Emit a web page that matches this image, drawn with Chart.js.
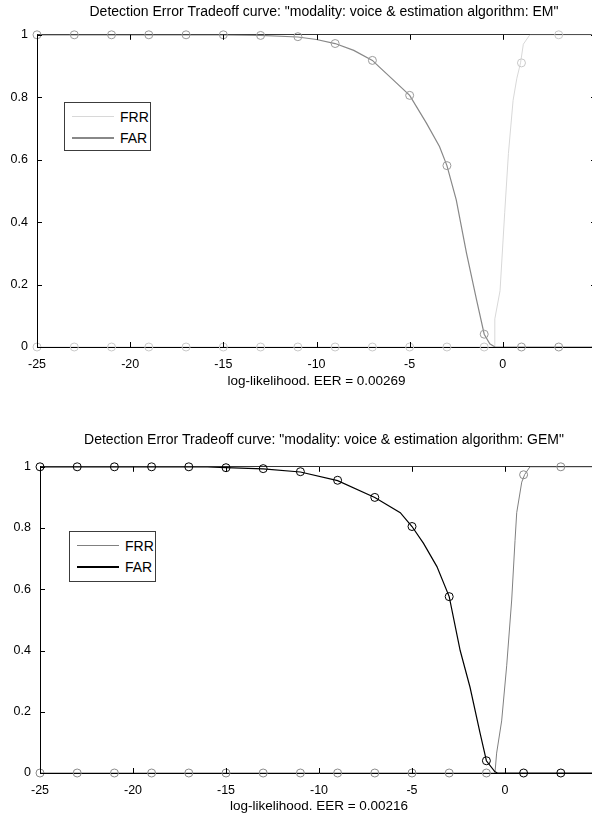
<!DOCTYPE html>
<html>
<head>
<meta charset="utf-8">
<script src="https://cdn.jsdelivr.net/npm/chart.js@4.4.0/dist/chart.umd.min.js"></script>
<style>
  html, body { margin: 0; padding: 0; background: #fff; overflow: hidden; }
  #page { position: relative; width: 592px; height: 817px; overflow: hidden; }
  canvas { position: absolute; left: 0; }
  .legend {
    position: absolute; box-sizing: border-box; width: 87px;
    border: 1px solid #3c3c3c; background: #fff; padding: 3px 0 0 7px;
    font: 14px 'Liberation Sans Narrow', 'Liberation Sans', Arial, sans-serif; color: #000;
  }
  .row { display: flex; align-items: center; height: 21px; }
  .swatch { display: inline-block; width: 42px; height: 0; border-top: 1px solid; margin-right: 6px; }
</style>
</head>
<body>
<div id="page">
  <canvas id="em" width="648" height="400" style="top:0"></canvas>
  <canvas id="gem" width="648" height="417" style="top:400px"></canvas>
  <div id="em-legend" class="legend" style="left:64px; top:102px; height:49px"></div>
  <div id="gem-legend" class="legend" style="left:69px; top:531px; height:51px"></div>
</div>
<script>
const FONT = "'Liberation Sans Narrow', 'Liberation Sans', Arial, sans-serif";

// markers every 2 units of log-likelihood
const markX = [-25, -23, -21, -19, -17, -15, -13, -11, -9, -7, -5, -3, -1, 1, 3, 5];

// EM
const emFrrMarks = [0, 0, 0, 0, 0, 0, 0, 0, 0, 0, 0, 0, 0, 0.91, 1, 1];
const emFarMarks = [1, 1, 1, 1, 1, 1, 0.998, 0.994, 0.972, 0.918, 0.806, 0.581, 0.041, 0, 0, 0];
const emFarX = [-25, -15, -13, -11, -10, -9, -8, -7, -6.65, -6, -5, -4.1, -3.4, -3, -2.5, -1.95, -1.41, -1, -0.7, -0.42, 5];
const emFarY = [1, 1, 0.998, 0.993, 0.985, 0.972, 0.95, 0.918, 0.898, 0.862, 0.806, 0.717, 0.642, 0.581, 0.471, 0.301, 0.151, 0.041, 0.01, 0, 0];
const emFrrX = [-25, -0.45, -0.43, -0.15, 0.1, 0.3, 0.55, 0.75, 0.95, 1.1, 1.45, 5];
const emFrrY = [0, 0, 0.09, 0.18, 0.43, 0.62, 0.79, 0.86, 0.91, 0.97, 1, 1];

// GEM
const gemFrrMarks = [0, 0, 0, 0, 0, 0, 0, 0, 0, 0, 0, 0, 0, 0.974, 1, 1];
const gemFarMarks = [1, 1, 1, 1, 1, 0.997, 0.994, 0.984, 0.956, 0.9, 0.805, 0.576, 0.04, 0, 0, 0];
const gemFarX = [-25, -16, -15, -13, -11, -9, -7, -5.63, -5, -4.38, -3.66, -3, -2.41, -1.88, -1.34, -1, -0.54, -0.4, 5];
const gemFarY = [1, 1, 0.997, 0.993, 0.983, 0.955, 0.9, 0.85, 0.805, 0.75, 0.674, 0.576, 0.4, 0.28, 0.13, 0.04, 0.004, 0, 0];
const gemFrrX = [-25, -0.54, -0.45, -0.18, 0.09, 0.36, 0.54, 0.63, 0.9, 1.06, 1.34, 5];
const gemFrrY = [0, 0, 0.065, 0.17, 0.35, 0.565, 0.76, 0.85, 0.95, 0.975, 1, 1];

const yTicks = [0, 0.2, 0.4, 0.6, 0.8, 1];

function zip(xs, ys) {
  return xs.map((x, i) => ({ x: x, y: ys[i] }));
}

// matlab style ticks pointing into the box
const inwardTicks = {
  id: "inwardTicks",
  afterDatasetsDraw(chart) {
    const { ctx, chartArea: a, scales } = chart;
    ctx.save();
    ctx.strokeStyle = "#000";
    ctx.lineWidth = 1;
    ctx.beginPath();
    scales.x.ticks.forEach((t) => {
      const px = Math.round(scales.x.getPixelForValue(t.value)) + 0.5;
      ctx.moveTo(px, a.bottom); ctx.lineTo(px, a.bottom - 5);
      ctx.moveTo(px, a.top); ctx.lineTo(px, a.top + 5);
    });
    scales.y.ticks.forEach((t) => {
      const py = Math.round(scales.y.getPixelForValue(t.value)) + 0.5;
      ctx.moveTo(a.left, py); ctx.lineTo(a.left + 5, py);
      ctx.moveTo(a.right, py); ctx.lineTo(a.right - 5, py);
    });
    ctx.stroke();
    ctx.restore();
  },
};

function makeChart(canvasId, legendId, p) {
  const chart = new Chart(document.getElementById(canvasId), {
    type: "scatter",
    data: {
      datasets: [
        {
          label: "FRR",
          data: zip(p.frrX, p.frrY),
          showLine: true,
          borderColor: p.frrColor,
          borderWidth: 1,
          pointRadius: 0,
          order: 2,
          legendWidth: 1,
        },
        {
          label: "FAR",
          data: zip(p.farX, p.farY),
          showLine: true,
          borderColor: p.farColor,
          borderWidth: 1.2,
          pointRadius: 0,
          order: 1,
          legendWidth: 2,
        },
        {
          data: zip(markX, p.frrMarks),
          showLine: false,
          clip: false,
          pointRadius: 4,
          pointBorderWidth: 1,
          pointBorderColor: p.frrMarkColor,
          pointBackgroundColor: "rgba(0,0,0,0)",
          order: 0,
        },
        {
          data: zip(markX, p.farMarks),
          showLine: false,
          clip: false,
          pointRadius: 4,
          pointBorderWidth: 1,
          pointBorderColor: p.farMarkColor,
          pointBackgroundColor: "rgba(0,0,0,0)",
          order: 0,
        },
      ],
    },
    options: {
      responsive: false,
      animation: false,
      events: [],
      devicePixelRatio: 1,
      layout: { padding: 0 },
      plugins: {
        legend: { display: false },
        tooltip: { enabled: false },
        title: {
          display: true,
          text: p.title,
          color: "#000",
          font: { family: FONT, size: 14, weight: "normal" },
          padding: p.titlePad,
        },
      },
      scales: {
        x: {
          type: "linear",
          position: "bottom",
          min: -25,
          max: 5,
          grid: { display: false },
          border: { color: "#000" },
          ticks: {
            stepSize: 5,
            padding: 2,
            color: "#000",
            maxRotation: 0,
            autoSkip: false,
            font: { family: FONT, size: 12.5 },
            callback: (v) => (v === 5 ? "" : String(v)),
          },
          title: {
            display: true,
            text: p.xlabel,
            color: "#000",
            font: { family: FONT, size: 13.5 },
            padding: { top: 0, bottom: p.xlabelPad },
          },
          afterFit: (s) => { s.height = p.xHeight; },
        },
        x2: {
          type: "linear",
          position: "top",
          min: -25,
          max: 5,
          grid: { display: false },
          border: { color: "#333" },
          ticks: { display: false },
          afterFit: (s) => { s.height = 0; },
        },
        y: {
          min: 0,
          max: 1,
          grid: { display: false },
          border: { color: "#000" },
          afterBuildTicks: (s) => { s.ticks = yTicks.map((v) => ({ value: v })); },
          ticks: {
            padding: 1,
            color: "#000",
            font: { family: FONT, size: 12.5 },
            callback: (v) => String(Math.round(v * 10) / 10),
          },
          afterFit: (s) => { s.width = p.yWidth; },
        },
        y2: {
          position: "right",
          min: 0,
          max: 1,
          grid: { display: false },
          border: { color: "#333" },
          ticks: { display: false },
          afterFit: (s) => { s.width = 648 - p.right; },
        },
      },
    },
    plugins: [inwardTicks],
  });

  const box = document.getElementById(legendId);
  chart.data.datasets.filter((d) => d.label).forEach((d) => {
    const row = document.createElement("div");
    row.className = "row";
    const sw = document.createElement("span");
    sw.className = "swatch";
    sw.style.borderTopColor = d.borderColor;
    sw.style.borderTopWidth = d.legendWidth + "px";
    const txt = document.createElement("span");
    txt.textContent = d.label;
    row.append(sw, txt);
    box.append(row);
  });
  return chart;
}

makeChart("em", "em-legend", {
  title: 'Detection Error Tradeoff curve: "modality: voice & estimation algorithm: EM"',
  xlabel: "log-likelihood. EER = 0.00269",
  frrX: emFrrX, frrY: emFrrY, farX: emFarX, farY: emFarY,
  frrMarks: emFrrMarks, farMarks: emFarMarks,
  frrColor: "#d8d8d8", farColor: "#888888",
  frrMarkColor: "#c8c8c8", farMarkColor: "#9a9a9a",
  titlePad: { top: 4, bottom: 14 },
  xHeight: 53, xlabelPad: 11,
  yWidth: 37, right: 596,
});

makeChart("gem", "gem-legend", {
  title: 'Detection Error Tradeoff curve: "modality: voice & estimation algorithm: GEM"',
  xlabel: "log-likelihood. EER = 0.00216",
  frrX: gemFrrX, frrY: gemFrrY, farX: gemFarX, farY: gemFarY,
  frrMarks: gemFrrMarks, farMarks: gemFarMarks,
  frrColor: "#808080", farColor: "#000000",
  frrMarkColor: "#8a8a8a", farMarkColor: "#000000",
  titlePad: { top: 32, bottom: 18 },
  xHeight: 44, xlabelPad: 3,
  yWidth: 40, right: 598,
});
</script>
</body>
</html>
